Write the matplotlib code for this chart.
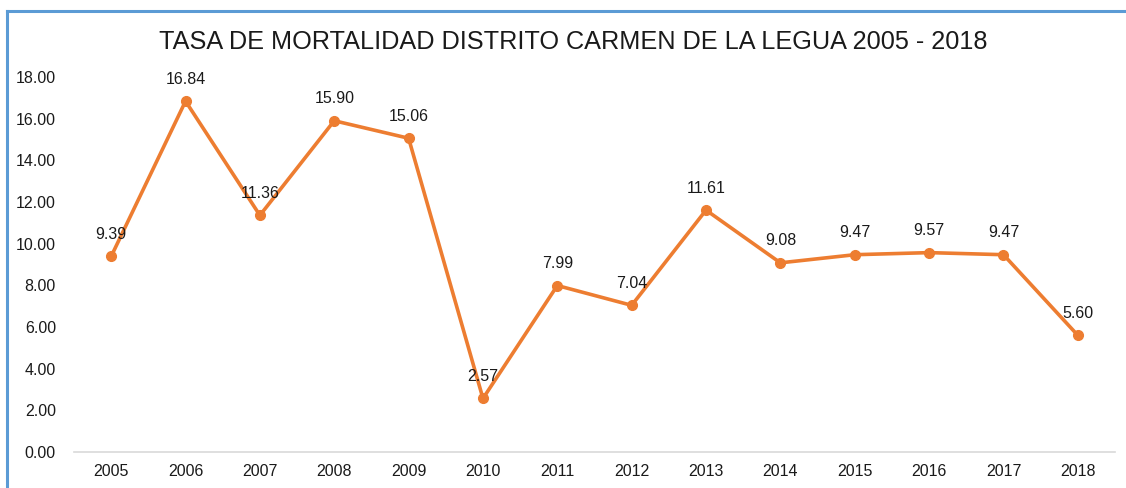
import matplotlib
matplotlib.use('Agg')
import matplotlib.pyplot as plt
from matplotlib.lines import Line2D

# data
years = ['2005', '2006', '2007', '2008', '2009', '2010', '2011',
         '2012', '2013', '2014', '2015', '2016', '2017', '2018']
tasa = [9.39, 16.84, 11.36, 15.90, 15.06, 2.57, 7.99,
        7.04, 11.61, 9.08, 9.47, 9.57, 9.47, 5.60]
yticks = [0, 2, 4, 6, 8, 10, 12, 14, 16, 18]

plt.rcParams['font.family'] = ['Liberation Sans', 'DejaVu Sans']

fig = plt.figure(figsize=(11.26, 4.88), dpi=100)
W, H = 1126.0, 488.0
# plot area in pixels: x 74..1115, y 77..452
ax = fig.add_axes([74 / W, 1 - 452 / H, (1115 - 74) / W, (452 - 77) / H])

x = range(len(years))
ax.plot(x, tasa, color='#ED7D31', lw=2.6, marker='o', ms=7,
        solid_joinstyle='round', clip_on=False)

for i, v in enumerate(tasa):
    ax.annotate('%.2f' % v, (i, v), xytext=(0, 10.5), textcoords='offset points',
                ha='center', va='bottom', fontsize=11.5, color='#1a1a1a')

ax.set_xlim(-0.5, len(years) - 0.5)
ax.set_ylim(0, 18)
ax.set_xticks(list(x))
ax.set_xticklabels(years, fontsize=11.5, color='#1a1a1a')
ax.set_yticks(yticks)
ax.set_yticklabels(['%.2f' % t for t in yticks], fontsize=11.5, color='#1a1a1a')
ax.tick_params(length=0, pad=9)
ax.tick_params(axis='y', pad=13)

for s in ['top', 'right', 'left']:
    ax.spines[s].set_visible(False)
ax.spines['bottom'].set_color('#d9d9d9')
ax.spines['bottom'].set_linewidth(1.2)

fig.text(573 / W, 1 - 42 / H, 'TASA DE MORTALIDAD DISTRITO CARMEN DE LA LEGUA 2005 - 2018',
         ha='center', va='center', fontsize=18.2, color='#1a1a1a')

# blue frame of the embedded chart (left and top edges)
fig.add_artist(Line2D([7.5 / W, 7.5 / W], [0, 1 - 11 / H], color='#5B9BD5', lw=2.2,
                      transform=fig.transFigure))
fig.add_artist(Line2D([7.5 / W, 1], [1 - 11 / H, 1 - 11 / H], color='#5B9BD5', lw=2.2,
                      transform=fig.transFigure))

fig.savefig('out.png', dpi=100)
